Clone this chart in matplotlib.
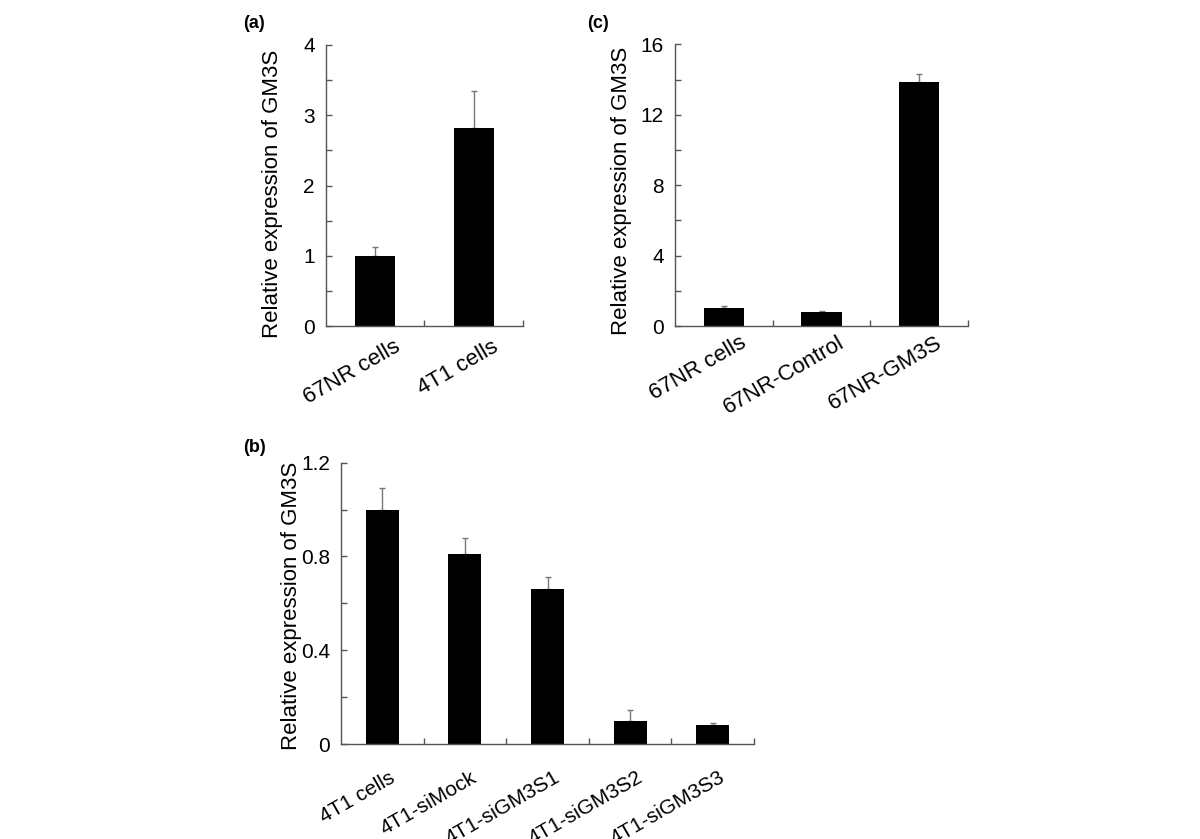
import numpy as np
import matplotlib
matplotlib.use("Agg")
import matplotlib.pyplot as plt
from matplotlib.transforms import ScaledTranslation

plt.rcParams['font.family'] = ['Liberation Sans', 'DejaVu Sans']

# panel (a)
a_labels = ['67NR cells', '4T1 cells']
a_vals = [1.0, 2.82]
a_err = [0.13, 0.53]

# panel (c)
c_labels = ['67NR cells', '67NR-Control', '67NR-GM3S']
c_vals = [1.02, 0.81, 13.88]
c_err = [0.10, 0.07, 0.42]

# panel (b)
b_labels = ['4T1 cells', '4T1-siMock', '4T1-siGM3S1', '4T1-siGM3S2', '4T1-siGM3S3']
b_vals = [1.0, 0.81, 0.66, 0.098, 0.08]
b_err = [0.09, 0.07, 0.053, 0.047, 0.011]

fig = plt.figure(figsize=(12, 8.39), dpi=100)


def panel(rect, labels, vals, errs, ymax, major, minor, width, lab_x, lab_y, dx, dy, xsize):
    ax = fig.add_axes(rect)
    n = len(labels)
    x = np.arange(n)
    ax.bar(x, vals, width=width, color='black', zorder=2)
    ax.errorbar(x, vals, yerr=[np.zeros(n), errs], fmt='none', ecolor='#777777',
                elinewidth=1, capsize=2, capthick=1, zorder=1)
    ax.set_xlim(-0.5, n - 0.5)
    ax.set_ylim(0, ymax)
    for s in ['top', 'right']:
        ax.spines[s].set_visible(False)
    for s in ['left', 'bottom']:
        ax.spines[s].set_color('#555555')
        ax.spines[s].set_linewidth(1)
    ticks = np.arange(0, ymax + 1e-9, major)
    ax.set_yticks(ticks)
    ax.set_yticks(np.arange(minor, ymax, major), minor=True)
    ax.set_yticklabels([('%g' % v) for v in ticks])
    ax.tick_params(axis='y', which='both', direction='in', length=4, width=1,
                   color='#555555', labelsize=15, pad=8)
    ax.set_xticks(x)
    ax.set_xticks(np.arange(0.5, n), minor=True)
    ax.tick_params(axis='x', which='major', length=0, labelsize=xsize, pad=0)
    ax.tick_params(axis='x', which='minor', direction='in', length=4, width=1,
                   color='#555555')
    ax.set_xticklabels(labels, rotation=30, ha='right', va='top', rotation_mode='anchor')
    off = ScaledTranslation(dx / 100, -dy / 100, fig.dpi_scale_trans)
    for t in ax.get_xticklabels():
        t.set_transform(t.get_transform() + off)
    ax.set_ylabel('Relative expression of GM3S', fontsize=16)
    ax.yaxis.set_label_coords(lab_x, lab_y)
    return ax


panel([0.2717, 0.6114, 0.1641, 0.3350], a_labels, a_vals, a_err, 4, 1, 0.5, 0.41,
      -0.218, 0.47, 18, 10, 16)
panel([0.5625, 0.6114, 0.2442, 0.3358], c_labels, c_vals, c_err, 16, 4, 2, 0.41,
      -0.147, 0.48, 16, 6, 16)
panel([0.2842, 0.1132, 0.3441, 0.3353], b_labels, b_vals, b_err, 1.2, 0.4, 0.2, 0.40,
      -0.095, 0.49, 6, 24, 15)

fig.text(243 / 1200, 1 - 23 / 839, '(a)', fontsize=13, fontweight='bold', va='center')
fig.text(587 / 1200, 1 - 23 / 839, '(c)', fontsize=13, fontweight='bold', va='center')
fig.text(243 / 1200, 1 - 447 / 839, '(b)', fontsize=13, fontweight='bold', va='center')

fig.savefig('out.png', dpi=100)
